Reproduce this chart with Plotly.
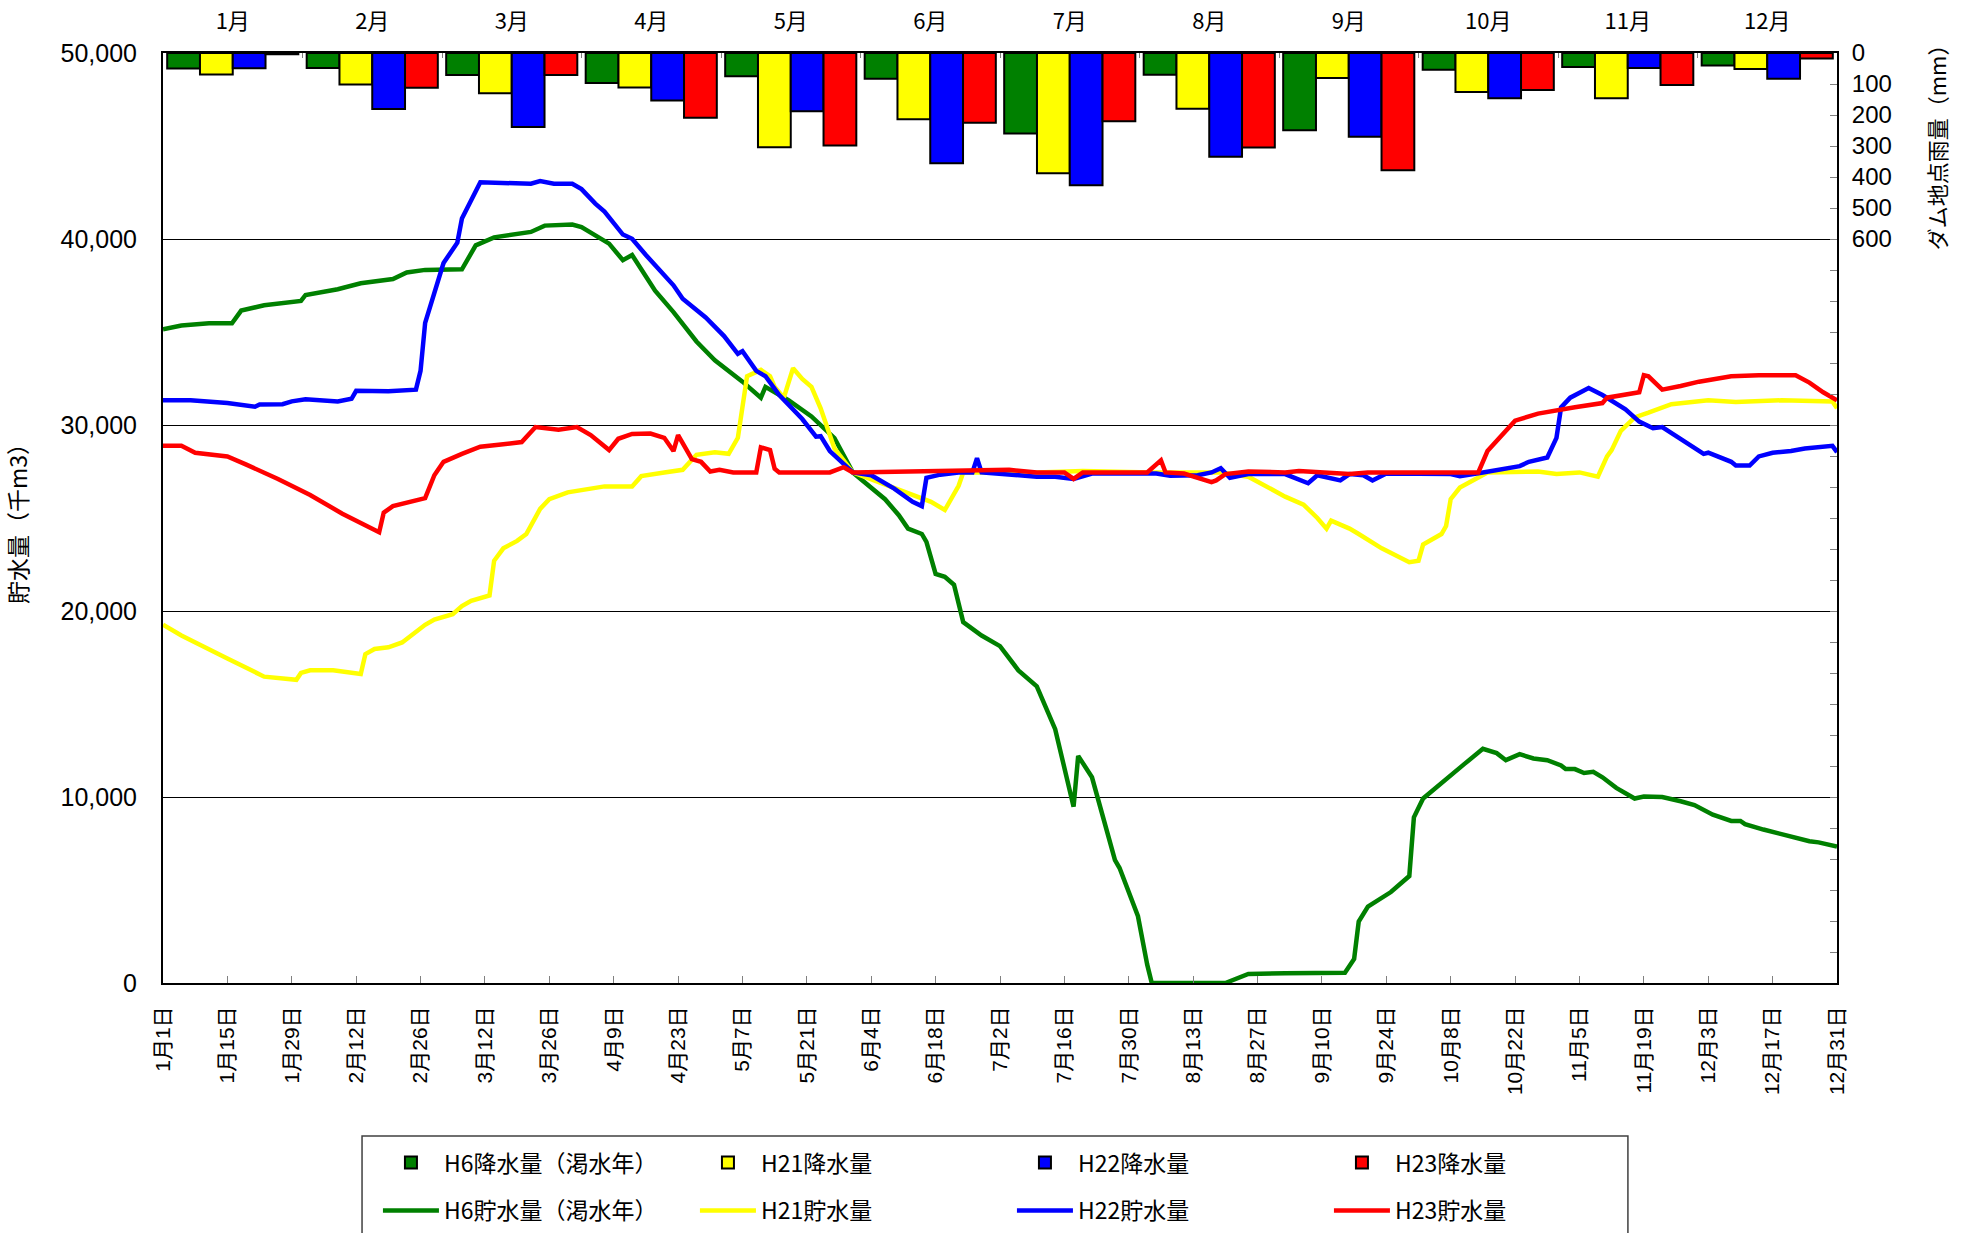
import plotly.graph_objects as go

# ---- monthly precipitation (mm) ----
months = ["1月", "2月", "3月", "4月", "5月", "6月", "7月", "8月", "9月", "10月", "11月", "12月"]
rain_h6 = [50, 48, 71, 97, 75, 83, 260, 70, 249, 54, 45, 40]
rain_h21 = [69, 102, 130, 111, 304, 214, 388, 180, 81, 126, 146, 52]
rain_h22 = [49, 181, 239, 153, 188, 356, 427, 335, 270, 146, 48, 83]
rain_h23 = [4, 112, 71, 209, 298, 225, 220, 305, 378, 119, 103, 18]

# ---- storage (thousand m3), day index 0 = Jan 1 ----
h6_day = [0, 4, 10, 15, 17, 22, 30, 31, 38, 43, 50, 53, 57, 65, 68, 72, 80, 83, 89, 91,
          97, 100, 102, 107, 111, 116, 120, 126, 130, 131, 136, 141, 146, 150, 157, 160, 162, 165, 166, 168,
          170, 172, 174, 178, 182, 186, 190, 194, 198, 199, 202, 207, 208, 212, 214, 215, 231, 236, 244, 257,
          259, 260, 262, 265, 267, 271, 272, 274, 278, 283, 287, 290, 292, 295, 298, 301, 304, 305, 307, 309,
          311, 313, 316, 320, 322, 326, 330, 333, 337, 341, 343, 344, 348, 355, 358, 360, 364]
h6_val = [35150, 35350, 35470, 35470, 36150, 36440, 36670, 36990, 37300, 37620, 37850, 38200, 38340, 38370, 39660, 40090, 40380, 40720, 40780, 40640,
          39750, 38860, 39140, 37220, 36070, 34490, 33480, 32330, 31470, 32050, 31330, 30460, 29300, 27450, 26010, 25150, 24430, 24140, 23710, 21990,
          21840, 21410, 19400, 18680, 18110, 16810, 15950, 13650, 9480, 12210, 11060, 6610, 6180, 3590, 1000, 0, 0, 490, 520, 550,
          1290, 3300, 4110, 4540, 4890, 5750, 8910, 9920, 10780, 11780, 12590, 12360, 11980, 12300, 12070, 11980, 11700, 11500, 11500, 11290,
          11350, 11060, 10490, 9920, 10030, 10000, 9770, 9570, 9050, 8710, 8710, 8540, 8250, 7820, 7620, 7560, 7330]

h21_day = [0, 4, 14, 22, 29, 30, 32, 37, 43, 44, 46, 49, 52, 54, 57, 59, 63, 65, 67, 71,
           72, 74, 77, 79, 82, 84, 88, 93, 96, 102, 104, 109, 113, 116, 120, 123, 125, 127, 130, 132,
           133, 135, 137, 139, 141, 143, 145, 146, 150, 161, 167, 170, 173, 174, 190, 200, 215, 230, 236, 244,
           248, 251, 253, 254, 258, 260, 265, 271, 273, 274, 276, 278, 279, 280, 282, 286, 288, 299, 303, 308,
           312, 314, 315, 317, 320, 323, 326, 328, 336, 342, 352, 363, 364]
h21_val = [19260, 18680, 17450, 16470, 16300, 16670, 16810, 16810, 16610, 17680, 17960, 18050, 18310, 18680, 19260, 19540, 19830, 20260, 20550, 20840,
           22700, 23370, 23770, 24140, 25490, 26010, 26380, 26580, 26700, 26700, 27250, 27450, 27590, 28400, 28540, 28450, 29310, 32620, 32960, 32620,
           32050, 31470, 33050, 32480, 32050, 30900, 29500, 28740, 27450, 26440, 25870, 25430, 26730, 27450, 27450, 27530, 27450, 27450, 27220, 26150,
           25720, 25000, 24430, 24860, 24430, 24140, 23370, 22620, 22700, 23570, 23850, 24140, 24570, 26010, 26640, 27160, 27450, 27500, 27360, 27450,
           27220, 28310, 28650, 29690, 30410, 30660, 30900, 31120, 31330, 31240, 31330, 31270, 30900]

h22_day = [0, 6, 14, 20, 21, 26, 28, 31, 38, 41, 42, 49, 55, 56, 57, 59, 60, 61, 64, 65,
           69, 80, 82, 85, 89, 91, 94, 96, 100, 102, 105, 109, 111, 113, 118, 122, 125, 126, 129, 131,
           134, 139, 142, 143, 145, 150, 154, 159, 163, 165, 166, 169, 173, 176, 177, 178, 190, 194, 198, 202,
           216, 219, 225, 228, 230, 232, 236, 244, 249, 251, 256, 258, 261, 263, 266, 280, 282, 287, 295, 297,
           301, 303, 304, 306, 310, 313, 318, 321, 324, 326, 330, 333, 335, 336, 341, 342, 345, 347, 350, 354,
           357, 363, 364]
h22_val = [31330, 31330, 31180, 30980, 31100, 31120, 31270, 31380, 31270, 31410, 31840, 31810, 31900, 32910, 35490, 37070, 37790, 38710, 39800, 41100,
           43050, 42970, 43110, 42970, 42970, 42680, 41900, 41470, 40240, 40010, 39140, 38080, 37510, 36790, 35780, 34780, 33830, 33970, 32910, 32620,
           31610, 30320, 29370, 29400, 28600, 27450, 27300, 26580, 25870, 25640, 27160, 27330, 27450, 27450, 28220, 27450, 27220, 27220, 27100, 27390,
           27390, 27270, 27300, 27450, 27680, 27160, 27360, 27360, 26870, 27300, 27020, 27360, 27300, 27020, 27390, 27360, 27250, 27450, 27790, 28020,
           28250, 29310, 30950, 31470, 31990, 31610, 30840, 30180, 29830, 29890, 29260, 28740, 28450, 28510, 28020, 27820, 27820, 28310, 28510, 28600,
           28740, 28880, 28540]

h23_day = [0, 4, 7, 14, 18, 25, 32, 39, 47, 48, 50, 54, 57, 59, 61, 65, 69, 73, 78, 81,
           86, 90, 93, 97, 99, 102, 106, 109, 111, 112, 115, 117, 119, 121, 124, 129, 130, 132, 133, 134,
           145, 148, 150, 184, 190, 196, 198, 200, 214, 217, 218, 222, 228, 229, 231, 236, 244, 247, 258, 262,
           286, 288, 291, 293, 294, 299, 303, 307, 313, 314, 321, 322, 323, 326, 330, 334, 341, 347, 355, 358,
           361, 364]
h23_val = [28880, 28880, 28510, 28310, 27880, 27100, 26240, 25230, 24230, 25290, 25640, 25870, 26070, 27300, 28020, 28450, 28830, 28940, 29080, 29890,
           29750, 29890, 29460, 28650, 29260, 29520, 29540, 29310, 28600, 29460, 28170, 28020, 27500, 27590, 27450, 27450, 28800, 28650, 27650, 27450,
           27450, 27730, 27450, 27590, 27450, 27450, 27100, 27450, 27450, 28100, 27450, 27390, 26930, 27020, 27360, 27500, 27450, 27530, 27360, 27450,
           27450, 28600, 29460, 29980, 30230, 30610, 30810, 30950, 31180, 31470, 31760, 32680, 32620, 31900, 32100, 32330, 32620, 32680, 32680, 32280,
           31760, 31330]

# ---- axis ticks ----
tick_days = list(range(0, 365, 14))
tick_labels = ["1月1日", "1月15日", "1月29日", "2月12日", "2月26日", "3月12日", "3月26日", "4月9日", "4月23日",
               "5月7日", "5月21日", "6月4日", "6月18日", "7月2日", "7月16日", "7月30日", "8月13日", "8月27日",
               "9月10日", "9月24日", "10月8日", "10月22日", "11月5日", "11月19日", "12月3日", "12月17日", "12月31日"]
storage_ticks = [0, 10000, 20000, 30000, 40000, 50000]
rain_ticks = list(range(0, 3001, 100))
rain_labels = [str(v) if v <= 600 else "" for v in rain_ticks]

colors = ["#008000", "#FFFF00", "#0000FF", "#FF0000"]
bar_names = ["H6降水量（渇水年）", "H21降水量", "H22降水量", "H23降水量"]
line_names = ["H6貯水量（渇水年）", "H21貯水量", "H22貯水量", "H23貯水量"]

fig = go.Figure()

for name, d, v, c in zip(line_names, [h6_day, h21_day, h22_day, h23_day],
                         [h6_val, h21_val, h22_val, h23_val], colors):
    fig.add_trace(go.Scatter(x=d, y=v, mode="lines", name=name,
                             line=dict(color=c, width=4.5), xaxis="x", yaxis="y",
                             legend="legend2"))

for name, r, c in zip(bar_names, [rain_h6, rain_h21, rain_h22, rain_h23], colors):
    fig.add_trace(go.Bar(x=months, y=r, name=name, marker=dict(color=c, line=dict(color="black", width=2)),
                         xaxis="x2", yaxis="y2", legend="legend"))

leg_common = dict(orientation="h", xanchor="left", yanchor="top", x=0.1284,
                  entrywidth=246, itemwidth=56, font=dict(size=23, color="black"),
                  bgcolor="rgba(0,0,0,0)", borderwidth=0, traceorder="normal")

fig.update_layout(
    width=1971, height=1233,
    margin=dict(l=163, r=134, t=53, b=250, autoexpand=False),
    plot_bgcolor="white", paper_bgcolor="white",
    font=dict(family="Noto Sans CJK JP", size=20, color="black"),
    barmode="group", bargap=0.06, bargroupgap=0,
    xaxis=dict(range=[0, 364], tickmode="array", tickvals=tick_days, ticktext=tick_labels,
               tickangle=-90, ticks="inside", ticklen=7, tickcolor="#808080",
               showline=True, linecolor="black", linewidth=2, showgrid=False, zeroline=False,
               ticklabelstandoff=13, automargin=False,
               tickfont=dict(family="Liberation Sans, Noto Sans CJK JP", size=21)),
    yaxis=dict(range=[0, 50000], tickmode="array", tickvals=storage_ticks, tickformat=",",
               showgrid=True, gridcolor="black", gridwidth=1, showline=True, linecolor="black",
               linewidth=2, ticks="", zeroline=False, ticklabelstandoff=19, automargin=False,
               tickfont=dict(family="Liberation Sans", size=25),
               title=dict(text="貯水量（千m3）", standoff=26, font=dict(size=23))),
    xaxis2=dict(overlaying="x", side="top", anchor="y2", type="category", range=[-0.5, 11.5],
                tickson="boundaries", ticks="inside", ticklen=5, tickcolor="#808080",
                showline=True, linecolor="black", linewidth=2, showgrid=False,
                ticklabelstandoff=13, automargin=False, tickfont=dict(size=22)),
    yaxis2=dict(overlaying="y", side="right", range=[3000, 0], tickmode="array",
                tickvals=rain_ticks, ticktext=rain_labels, ticks="inside", ticklen=7,
                tickcolor="#808080", showline=True, linecolor="black", linewidth=2,
                showgrid=False, zeroline=False, ticklabelstandoff=8, automargin=False,
                tickfont=dict(family="Liberation Sans", size=24)),
    legend=dict(y=-0.170, **leg_common),
    legend2=dict(y=-0.2215, **leg_common),
    shapes=[dict(type="rect", xref="paper", yref="paper", x0=0.1189, x1=0.8751,
                 y0=-0.1645, y1=-0.30, line=dict(color="#404040", width=1.5),
                 fillcolor="rgba(0,0,0,0)", layer="above")],
    annotations=[dict(text="ダム地点雨量（mm）", textangle=-90, xref="paper", yref="paper",
                      x=1.0591, y=0.905, xanchor="center", yanchor="middle", showarrow=False,
                      font=dict(size=22, color="black"))],
    showlegend=True,
)

fig.write_html("out.html", config={"displayModeBar": False},
               post_script="document.body.style.margin='0px';document.body.style.overflow='hidden';")
